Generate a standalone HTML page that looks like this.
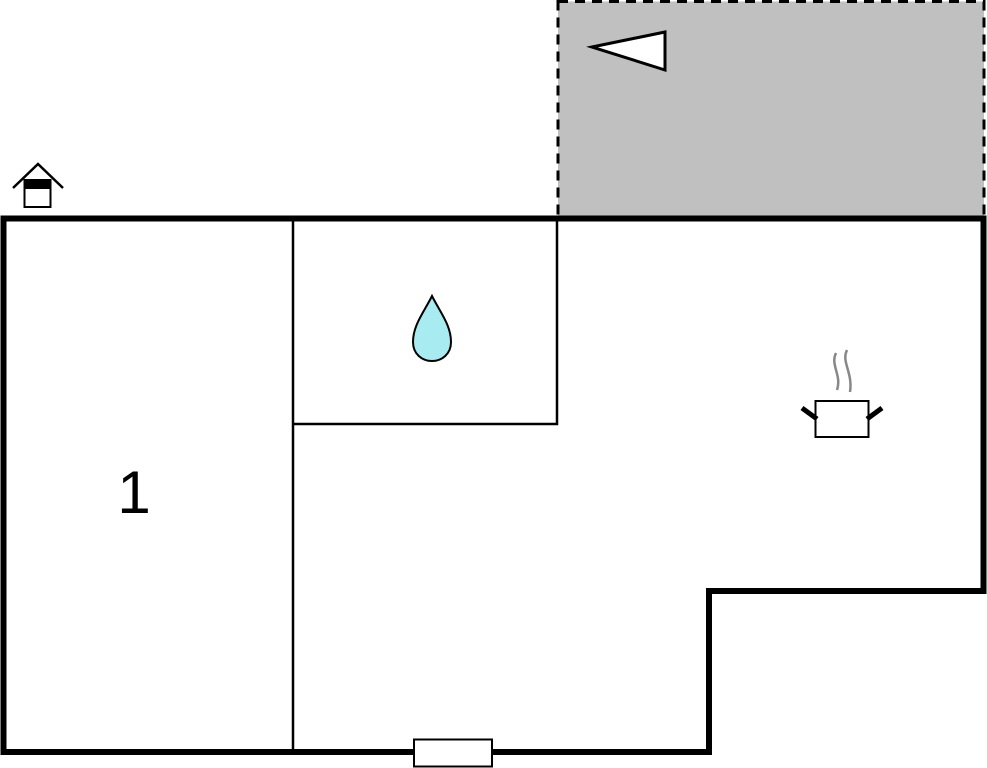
<!DOCTYPE html>
<html><head><meta charset="utf-8"><style>html,body{margin:0;padding:0;background:#fff}svg{display:block}</style></head>
<body>
<svg width="987" height="768" viewBox="0 0 987 768" xmlns="http://www.w3.org/2000/svg">
<rect x="558" y="1.5" width="426" height="216" fill="#c0c0c0" stroke="#000" stroke-width="3" stroke-dasharray="10,7"/>
<polygon points="592,47 665,32 665,70" fill="#fff" stroke="#000" stroke-width="3"/>
<polygon points="3.5,218.5 983.5,218.5 983.5,591 709,591 709,752 3.5,752" fill="none" stroke="#000" stroke-width="6"/>
<line x1="293" y1="218" x2="293" y2="752" stroke="#000" stroke-width="2.5"/>
<polyline points="293,424 557,424 557,218" fill="none" stroke="#000" stroke-width="2.5"/>
<rect x="414" y="739.5" width="78" height="27" fill="#fff" stroke="#000" stroke-width="2"/>
<path d="M432,296 C440,312 451,325 451,342 C451,354 442,361 432,361 C422,361 413,354 413,342 C413,325 424,312 432,296 Z" fill="#a8ecf2" stroke="#000" stroke-width="2"/>
<text x="134" y="513" font-family="Liberation Sans, sans-serif" font-size="60" text-anchor="middle" fill="#000">1</text>
<polyline points="13,188 38,164 63,188" fill="none" stroke="#000" stroke-width="2.5"/>
<rect x="24" y="180" width="27" height="9" fill="#000"/>
<rect x="24.5" y="180" width="26" height="27" fill="none" stroke="#000" stroke-width="2"/>
<path d="M836,353 C830,365 842,375 837,390 M847,350 C841,362 853,372 850,392" fill="none" stroke="#888" stroke-width="2.5"/>
<rect x="815.5" y="401" width="53" height="36" fill="#fff" stroke="#000" stroke-width="2"/>
<line x1="802" y1="408" x2="817" y2="419" stroke="#000" stroke-width="5"/>
<line x1="882" y1="408" x2="867" y2="419" stroke="#000" stroke-width="5"/>
</svg>
</body></html>
